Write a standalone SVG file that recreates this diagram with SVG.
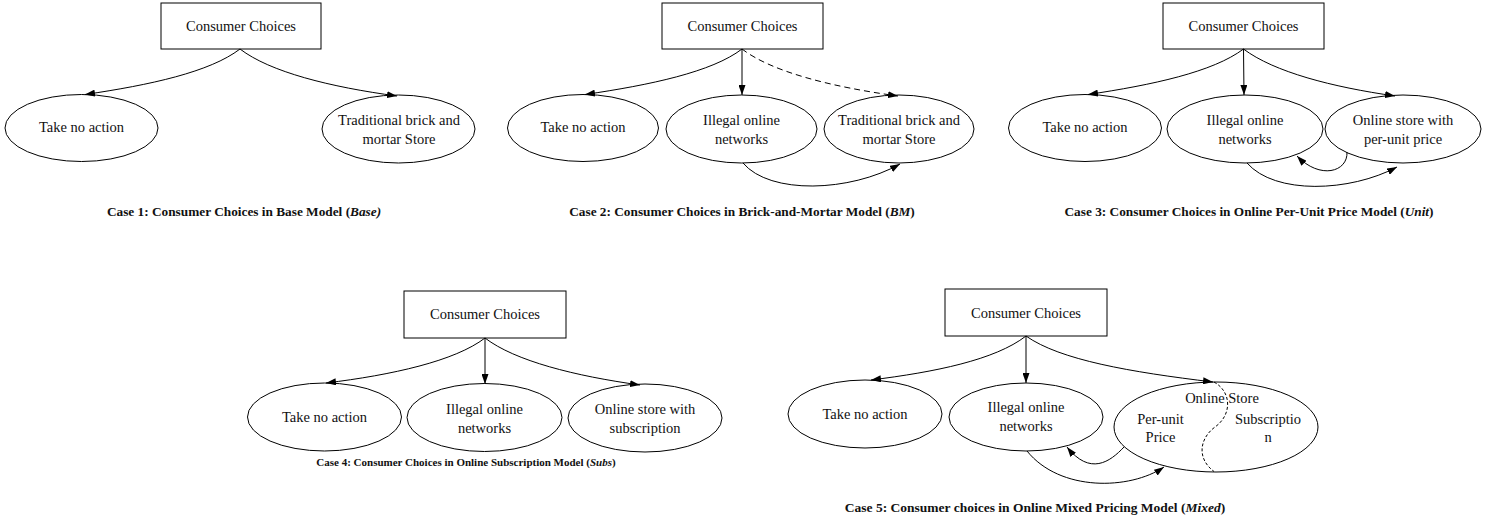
<svg xmlns="http://www.w3.org/2000/svg" width="1492" height="527" viewBox="0 0 1492 527">
<defs>
<marker id="ah" viewBox="0 0 10 7" refX="10" refY="3.5" markerWidth="10" markerHeight="7" markerUnits="userSpaceOnUse" orient="auto"><path d="M0,0 L10,3.5 L0,7 z" fill="#000"/></marker>
<style>
.box{fill:#fff;stroke:#000;stroke-width:1}
.el{fill:#fff;stroke:#000;stroke-width:1}
.t{font-family:"Liberation Serif","Times New Roman",serif;font-size:14.5px;fill:#111;text-anchor:middle}
.cap{font-family:"Liberation Serif","Times New Roman",serif;font-size:13.3px;font-weight:bold;fill:#111;text-anchor:middle}
.it{font-style:italic}
.c{fill:none;stroke:#000;stroke-width:1;marker-end:url(#ah)}
.dash{stroke-dasharray:6,4}
.div{fill:none;stroke:#000;stroke-width:1;stroke-dasharray:3,2}
</style>
</defs>
<rect width="1492" height="527" fill="#fff"/>

<!-- Case 1 -->
<g id="c1-root"><rect class="box" x="161" y="3" width="160" height="46"/><text class="t" x="241" y="31">Consumer Choices</text></g>
<g id="c1-none"><ellipse class="el" cx="81.5" cy="128" rx="76.5" ry="33.5"/><text class="t" x="81.5" y="132">Take no action</text></g>
<g id="c1-bm"><ellipse class="el" cx="398.5" cy="129" rx="76.5" ry="34"/><text class="t" x="399" y="124.5">Traditional brick and</text><text class="t" x="399" y="143.5">mortar Store</text></g>

<!-- Case 2 -->
<g id="c2-root"><rect class="box" x="662" y="3" width="161" height="46"/><text class="t" x="742.5" y="31">Consumer Choices</text></g>
<g id="c2-none"><ellipse class="el" cx="583" cy="128" rx="75.5" ry="33.5"/><text class="t" x="583" y="132">Take no action</text></g>
<g id="c2-illegal"><ellipse class="el" cx="741.5" cy="129" rx="75.5" ry="34"/><text class="t" x="741.5" y="124.5">Illegal online</text><text class="t" x="741.5" y="143.5">networks</text></g>
<g id="c2-bm"><ellipse class="el" cx="899" cy="129" rx="75" ry="34"/><text class="t" x="899" y="124.5">Traditional brick and</text><text class="t" x="899" y="143.5">mortar Store</text></g>

<!-- Case 3 -->
<g id="c3-root"><rect class="box" x="1163" y="3" width="161" height="46"/><text class="t" x="1243.5" y="31">Consumer Choices</text></g>
<g id="c3-none"><ellipse class="el" cx="1085" cy="128" rx="76.5" ry="33.5"/><text class="t" x="1085" y="132">Take no action</text></g>
<g id="c3-illegal"><ellipse class="el" cx="1245" cy="129" rx="78" ry="34"/><text class="t" x="1245" y="124.5">Illegal online</text><text class="t" x="1245" y="143.5">networks</text></g>
<g id="c3-unit"><ellipse class="el" cx="1403" cy="129" rx="78" ry="34"/><text class="t" x="1403" y="124.5">Online store with</text><text class="t" x="1403" y="143.5">per-unit price</text></g>

<!-- Case 4 -->
<g id="c4-root"><rect class="box" x="404" y="291" width="162" height="47"/><text class="t" x="485" y="319">Consumer Choices</text></g>
<g id="c4-none"><ellipse class="el" cx="324.5" cy="417" rx="77" ry="34"/><text class="t" x="324.5" y="421.5">Take no action</text></g>
<g id="c4-illegal"><ellipse class="el" cx="484.5" cy="417.5" rx="77.5" ry="34"/><text class="t" x="484.5" y="413.5">Illegal online</text><text class="t" x="484.5" y="432.5">networks</text></g>
<g id="c4-subs"><ellipse class="el" cx="645" cy="418" rx="77" ry="34"/><text class="t" x="645" y="413.5">Online store with</text><text class="t" x="645" y="432.5">subscription</text></g>

<!-- Case 5 -->
<g id="c5-root"><rect class="box" x="945" y="289" width="162" height="47"/><text class="t" x="1026" y="317.5">Consumer Choices</text></g>
<g id="c5-none"><ellipse class="el" cx="865" cy="414" rx="77" ry="34"/><text class="t" x="865" y="419">Take no action</text></g>
<g id="c5-illegal"><ellipse class="el" cx="1026" cy="417" rx="77" ry="34"/><text class="t" x="1026" y="412">Illegal online</text><text class="t" x="1026" y="431">networks</text></g>
<g id="c5-mixed"><ellipse class="el" cx="1216" cy="427" rx="102" ry="45"/>
<path class="div" d="M1214,382 C1232,392 1232,415 1215,427 C1200,438 1196,458 1214,471.5"/>
<text class="t" x="1222" y="403">Online Store</text>
<text class="t" x="1160.5" y="423.5">Per-unit</text><text class="t" x="1160.5" y="442">Price</text>
<text class="t" x="1268" y="423.5">Subscriptio</text><text class="t" x="1268" y="442">n</text></g>

<g id="connectors">
<path class="c" d="M240,49 C210,72 150,85 85,94.5"/>
<path class="c" d="M240,49 C270,72 330,87 397,96"/>

<path class="c" d="M742,49 C712,72 650,85 585,94.5"/>
<path class="c" d="M742,49 L742,95"/>
<path class="c dash" d="M742,49 C772,72 832,87 898,96"/>
<path class="c" d="M743,163 C770,195 850,192 900,164"/>

<path class="c" d="M1243.5,49 C1213,72 1152,85 1088,94.5"/>
<path class="c" d="M1243.5,49 L1244,95"/>
<path class="c" d="M1243.5,49 C1274,72 1332,87 1395,96"/>
<path class="c" d="M1247,163 C1275,195 1350,192 1397,167"/>
<path class="c" d="M1347,152 C1348,172 1320,180 1297,156"/>

<path class="c" d="M485,338 C455,361 392,375 326,383"/>
<path class="c" d="M485,338 L485,384"/>
<path class="c" d="M485,338 C515,361 575,376 640,385"/>

<path class="c" d="M1026,336 C995,360 935,372 871,380"/>
<path class="c" d="M1026,336 L1026,383"/>
<path class="c" d="M1026,336 C1060,360 1130,372 1213,382"/>
<path class="c" d="M1027,451 C1060,492 1130,490 1164,467"/>
<path class="c" d="M1124,447 C1110,462 1090,476 1067,447"/>
</g>

<g id="captions">
<text class="cap" x="244" y="215.5">Case 1: Consumer Choices in Base Model (<tspan class="it">Base)</tspan></text>
<text class="cap" x="742" y="215.5">Case 2: Consumer Choices in Brick-and-Mortar Model (<tspan class="it">BM</tspan>)</text>
<text class="cap" x="1249" y="215.5">Case 3: Consumer Choices in Online Per-Unit Price Model (<tspan class="it">Unit</tspan>)</text>
<text class="cap" x="466" y="466" style="font-size:11px">Case 4: Consumer Choices in Online Subscription Model (<tspan class="it">Subs</tspan>)</text>
<text class="cap" x="1035" y="512" style="font-size:13.5px">Case 5: Consumer choices in Online Mixed Pricing Model (<tspan class="it">Mixed</tspan>)</text>
</g>
</svg>
